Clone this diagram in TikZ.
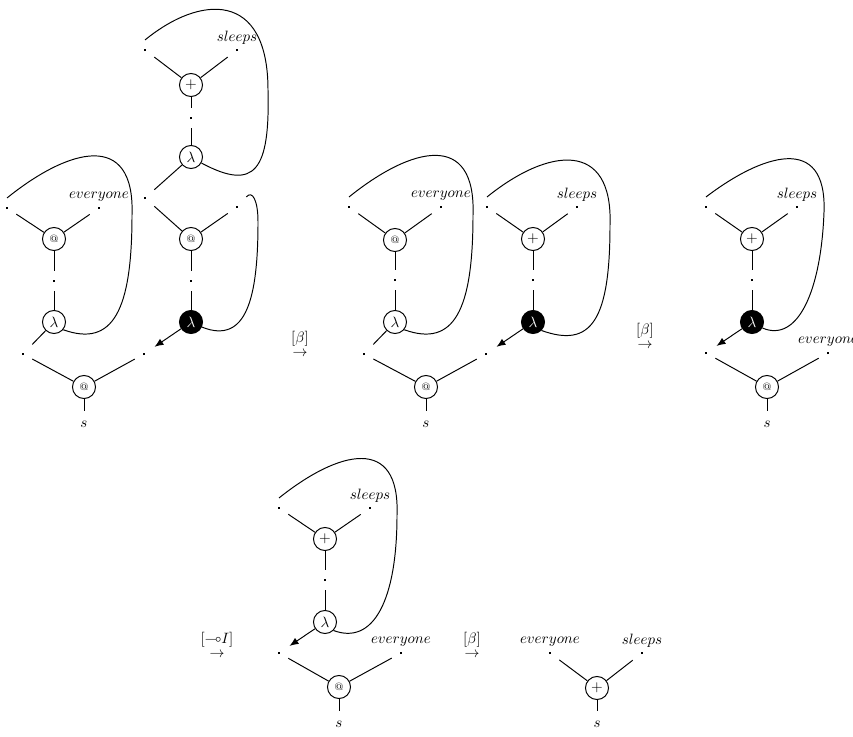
\documentclass[tikz,border=0pt]{standalone}
\usepackage{amssymb}
\usetikzlibrary{arrows.meta}
\newcommand\pdot{\rule{1.5pt}{1.5pt}}
\begin{document}
\begin{tikzpicture}[x=0.668pt,y=-0.668pt,
  cnode/.style={circle,draw,line width=0.65pt,minimum size=15.4pt,inner sep=0pt},
  bnode/.style={cnode,fill=black,text=white},
  dotn/.style={rectangle,inner sep=0pt,minimum width=12pt,minimum height=13pt},
  snode/.style={inner sep=0pt,outer sep=7pt},
  lbl/.style={inner sep=0pt,anchor=base},
  rulelbl/.style={align=center,inner sep=0pt},
  wire/.style={line width=0.65pt},
  arr/.style={wire,-{Latex[length=6pt,width=4.8pt]},shorten >=1pt},
  atsym/.style={font=\scriptsize}]
\useasboundingbox (0,0) rectangle (853,736);

% ---------------- Diagram 1 ----------------
\node[cnode,atsym] (A1) at (84,387) {@};
\node[snode] (s1) at (84,424.5) {$s$};
\node[dotn] (L1) at (23,354) {\pdot};
\node[dotn] (R1) at (144,354) {\pdot};
\node[cnode] (la) at (54,322) {$\lambda$};
\node[dotn] (pa) at (54,281) {\pdot};
\node[cnode,atsym] (ata) at (54,239) {@};
\node[dotn] (ya) at (7,208) {\pdot};
\node[dotn] (ea) at (99,208) {\pdot};
\node[lbl] (tea) at ([yshift=6.3pt]ea) {$everyone$};
\node[bnode] (lb) at (191,322) {$\lambda$};
\node[dotn] (pb) at (191,281) {\pdot};
\node[cnode,atsym] (atb) at (191,239) {@};
\node[dotn] (qb) at (145,198) {\pdot};
\node[dotn] (rb) at (237,207) {\pdot};
\node[cnode] (lc) at (191,157) {$\lambda$};
\node[dotn] (pc) at (191,118) {\pdot};
\node[cnode] (plc) at (191,85) {$+$};
\node[dotn] (yc) at (145,50) {\pdot};
\node[dotn] (sc) at (237,50) {\pdot};
\node[lbl] (tsc) at ([yshift=6pt]sc) {$sleeps$};
\coordinate (ka) at (132,215);
\coordinate (kb) at (258,222);
\coordinate (kc) at (268,90);

\draw[wire] (A1) -- (L1);
\draw[wire] (A1) -- (R1);
\draw[wire] (A1) -- (s1);
\draw[wire] (la) -- (L1);
\draw[wire] (pa) -- (la);
\draw[wire] (ata) -- (pa);
\draw[wire] (ata) -- (ya);
\draw[wire] (ata) -- (ea);
\draw[arr] (lb) -- (R1);
\draw[wire] (pb) -- (lb);
\draw[wire] (atb) -- (pb);
\draw[wire] (atb) -- (qb);
\draw[wire] (atb) -- (rb);
\draw[wire] (lc) -- (qb);
\draw[wire] (pc) -- (lc);
\draw[wire] (plc) -- (pc);
\draw[wire] (plc) -- (yc);
\draw[wire] (plc) -- (sc);
\draw[wire] (ya.north) .. controls +(62,-50) and +(3,-85) .. (ka)
  .. controls +(0,95) and +(50,18) .. (la.-40);
\draw[wire] (rb.north east) .. controls +(6,-7) and +(0,-22) .. (kb)
  .. controls +(0,75) and +(45,18) .. (lb.-25);
\draw[wire] (yc.north) .. controls +(55,-45) and +(0,-100) .. (kc)
  .. controls +(2,80) and +(54,29) .. (lc.-30);

\node[rulelbl] (r1) at (300,344) {$[\beta]$\\[-2.5pt]$\to$};

% ---------------- Diagram 2 ----------------
\node[cnode,atsym] (A2) at (426,387) {@};
\node[snode] (s2) at (426,424.5) {$s$};
\node[dotn] (L2) at (364,354) {\pdot};
\node[dotn] (R2) at (486,354) {\pdot};
\node[cnode] (la2) at (395,322) {$\lambda$};
\node[dotn] (pa2) at (395,280) {\pdot};
\node[cnode,atsym] (ata2) at (395,240) {@};
\node[dotn] (ya2) at (349,207) {\pdot};
\node[dotn] (ea2) at (441,207) {\pdot};
\node[lbl] (tea2) at ([yshift=6.3pt]ea2) {$everyone$};
\node[bnode] (lb2) at (533,322) {$\lambda$};
\node[dotn] (pb2) at (533,280) {\pdot};
\node[cnode] (plb2) at (533,239) {$+$};
\node[dotn] (yb2) at (487,207) {\pdot};
\node[dotn] (sb2) at (577,207) {\pdot};
\node[lbl] (tsb2) at ([yshift=6pt]sb2) {$sleeps$};
\coordinate (ka2) at (473,215);
\coordinate (kb2) at (610,225);

\draw[wire] (A2) -- (L2);
\draw[wire] (A2) -- (R2);
\draw[wire] (A2) -- (s2);
\draw[wire] (la2) -- (L2);
\draw[wire] (pa2) -- (la2);
\draw[wire] (ata2) -- (pa2);
\draw[wire] (ata2) -- (ya2);
\draw[wire] (ata2) -- (ea2);
\draw[arr] (lb2) -- (R2);
\draw[wire] (pb2) -- (lb2);
\draw[wire] (plb2) -- (pb2);
\draw[wire] (plb2) -- (yb2);
\draw[wire] (plb2) -- (sb2);
\draw[wire] (ya2.north) .. controls +(62,-50) and +(3,-85) .. (ka2)
  .. controls +(0,95) and +(50,18) .. (la2.-40);
\draw[wire] (yb2.north) .. controls +(62,-50) and +(3,-85) .. (kb2)
  .. controls +(0,95) and +(50,18) .. (lb2.-45);

\node[rulelbl] (r2) at (645,335.5) {$[\beta]$\\[-2.5pt]$\to$};

% ---------------- Diagram 3 ----------------
\node[cnode,atsym] (A3) at (767,387) {@};
\node[snode] (s3n) at (767,424.5) {$s$};
\node[dotn] (L3) at (706,353) {\pdot};
\node[dotn] (R3) at (828,353) {\pdot};
\node[lbl] (tR3) at ([yshift=6.3pt]R3) {$everyone$};
\node[bnode] (l3) at (752,322) {$\lambda$};
\node[dotn] (p3) at (752,280) {\pdot};
\node[cnode] (pl3) at (752,239) {$+$};
\node[dotn] (y3) at (706,207) {\pdot};
\node[dotn] (s3) at (797,207) {\pdot};
\node[lbl] (ts3) at ([yshift=6pt]s3) {$sleeps$};
\coordinate (k3) at (824,212);

\draw[wire] (A3) -- (L3);
\draw[wire] (A3) -- (R3);
\draw[wire] (A3) -- (s3n);
\draw[arr] (l3) -- (L3);
\draw[wire] (p3) -- (l3);
\draw[wire] (pl3) -- (p3);
\draw[wire] (pl3) -- (y3);
\draw[wire] (pl3) -- (s3);
\draw[wire] (y3.north) .. controls +(55,-42) and +(3,-80) .. (k3)
  .. controls +(-3,80) and +(35,15) .. (l3.-30);

% ---------------- Diagram 4 ----------------
\node[rulelbl] (r3) at (217,644.5) {$[{\multimap}I]$\\[-2.5pt]$\to$};
\node[cnode,atsym] (A4) at (339,687) {@};
\node[snode] (s4n) at (339,724.5) {$s$};
\node[dotn] (L4) at (279,653) {\pdot};
\node[dotn] (R4) at (401,653) {\pdot};
\node[lbl] (tR4) at ([yshift=6.3pt]R4) {$everyone$};
\node[cnode] (l4) at (325,622) {$\lambda$};
\node[dotn] (p4) at (325,580) {\pdot};
\node[cnode] (pl4) at (325,539) {$+$};
\node[dotn] (y4) at (279,508) {\pdot};
\node[dotn] (s4) at (370,508) {\pdot};
\node[lbl] (ts4) at ([yshift=6pt]s4) {$sleeps$};
\coordinate (k4) at (397,515);

\draw[wire] (A4) -- (L4);
\draw[wire] (A4) -- (R4);
\draw[wire] (A4) -- (s4n);
\draw[arr] (l4) -- (L4);
\draw[wire] (p4) -- (l4);
\draw[wire] (pl4) -- (p4);
\draw[wire] (pl4) -- (y4);
\draw[wire] (pl4) -- (s4);
\draw[wire] (y4.north) .. controls +(60,-48) and +(3,-80) .. (k4)
  .. controls +(0,85) and +(40,15) .. (l4.-45);

% ---------------- Diagram 5 ----------------
\node[rulelbl] (r4) at (472,644.5) {$[\beta]$\\[-2.5pt]$\to$};
\node[cnode] (pl5) at (597,688) {$+$};
\node[snode] (s5n) at (597,724.5) {$s$};
\node[dotn] (L5) at (550,653) {\pdot};
\node[dotn] (R5) at (642,653) {\pdot};
\node[lbl] (tL5) at ([yshift=6.3pt]L5) {$everyone$};
\node[lbl] (tR5) at ([yshift=6pt]R5) {$sleeps$};
\draw[wire] (pl5) -- (L5);
\draw[wire] (pl5) -- (R5);
\draw[wire] (pl5) -- (s5n);
\end{tikzpicture}
\end{document}
